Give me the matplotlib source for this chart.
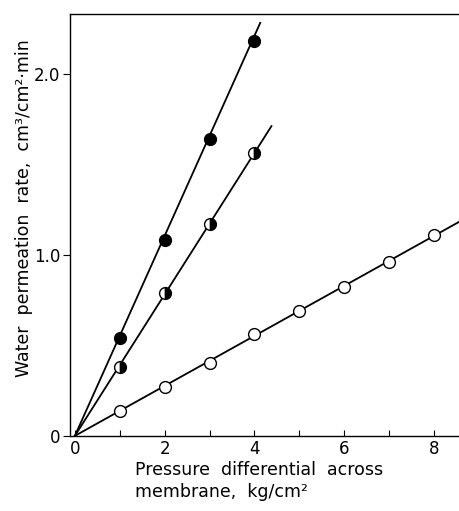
import numpy as np
import matplotlib.pyplot as plt

# readings
pressure = [1, 2, 3, 4, 5, 6, 7, 8]
rate_filled = [0.54, 1.08, 1.64, 2.18]
rate_half = [0.38, 0.79, 1.17, 1.56]
rate_open = [0.14, 0.27, 0.40, 0.56, 0.69, 0.82, 0.96, 1.11]

# fitted lines (start at origin, end where drawn)
line_filled = ([0, 4.13], [0, 2.28])
line_half = ([0, 4.38], [0, 1.71])
line_open = ([0, 8.55], [0, 1.18])

fig = plt.figure(figsize=(4.6, 5.11), dpi=100)
ax = fig.add_axes([0.152, 0.147, 0.846, 0.826])

for lx, ly in [line_filled, line_half, line_open]:
    ax.plot(lx, ly, color='black', lw=1.3, zorder=2)

mk = dict(marker='o', ms=8.5, mec='black', mew=1.0, ls='none', zorder=3)
ax.plot(pressure[:4], rate_filled, mfc='black', **mk)
ax.plot(pressure[:4], rate_half, fillstyle='left', mfc='white',
        markerfacecoloralt='black', **mk)
ax.plot(pressure, rate_open, mfc='white', **mk)

ax.set_xlim(-0.11, 8.56)
ax.set_ylim(0, 2.33)

ax.spines['right'].set_visible(False)
for s in ['left', 'bottom', 'top']:
    ax.spines[s].set_linewidth(1.0)

ax.set_xticks([0, 2, 4, 6, 8])
ax.set_xticklabels(['0', '2', '4', '6', '8'])
ax.set_xticks([1, 3, 5, 7], minor=True)
ax.tick_params(axis='x', which='both', direction='in', length=4, width=0.8,
               labelsize=12, pad=3)
ax.set_yticks([0, 1.0, 2.0])
ax.set_yticklabels(['0', '1.0', '2.0'])
ax.tick_params(axis='y', direction='out', length=5, width=0.8,
               labelsize=12, pad=2)

fig.text(24 / 460, 1 - 208 / 511, 'Water  permeation  rate,  cm³/cm²·min',
         rotation=90, ha='center', va='center', fontsize=12.5)
fig.text(135 / 460, 1 - 461 / 511,
         'Pressure  differential  across\nmembrane,  kg/cm²',
         ha='left', va='top', fontsize=12.5, linespacing=1.25)

plt.savefig('out.png', dpi=100)
